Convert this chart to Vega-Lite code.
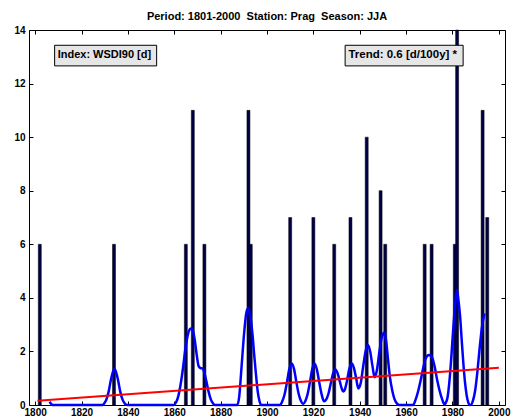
{
  "$schema": "https://vega.github.io/schema/vega-lite/v6.json",
  "width": 476,
  "height": 375,
  "autosize": {"type": "none"},
  "padding": {"left": 29, "top": 30, "right": 9, "bottom": 15},
  "background": "white",
  "title": {"text": "Period: 1801-2000\u00a0\u00a0Station: Prag\u00a0\u00a0Season: JJA", "font": "Liberation Sans", "fontSize": 11, "fontWeight": "bold", "color": "black", "anchor": "middle", "offset": -6, "baseline": "alphabetic"},
  "config": {
    "view": {"stroke": null},
    "axis": {"grid": false, "domainColor": "black", "domainWidth": 1, "tickColor": "black", "tickWidth": 1, "labelFont": "Liberation Sans", "labelFontWeight": "bold", "labelFontSize": 10, "labelColor": "black"}
  },
  "datasets": {
    "bars": [
      {"year": 1802, "days": 6}, {"year": 1834, "days": 6}, {"year": 1865, "days": 6}, {"year": 1868, "days": 11},
      {"year": 1873, "days": 6}, {"year": 1892, "days": 11}, {"year": 1893, "days": 6}, {"year": 1910, "days": 7},
      {"year": 1920, "days": 7}, {"year": 1929, "days": 6}, {"year": 1936, "days": 7}, {"year": 1943, "days": 10},
      {"year": 1949, "days": 8}, {"year": 1951, "days": 6}, {"year": 1968, "days": 6}, {"year": 1971, "days": 6},
      {"year": 1981, "days": 6}, {"year": 1982, "days": 14}, {"year": 1993, "days": 11}, {"year": 1995, "days": 7}
    ],
    "smooth": [
      {"year": 1806.2, "value": 0.12}, {"year": 1806.9, "value": 0.04}, {"year": 1807.5, "value": 0}, {"year": 1829.2, "value": 0},
      {"year": 1829.7, "value": 0.05}, {"year": 1830.7, "value": 0.2}, {"year": 1831.7, "value": 0.5}, {"year": 1832.7, "value": 0.95},
      {"year": 1833.7, "value": 1.28}, {"year": 1834.2, "value": 1.34}, {"year": 1834.7, "value": 1.28}, {"year": 1835.7, "value": 0.95},
      {"year": 1836.7, "value": 0.5}, {"year": 1837.7, "value": 0.2}, {"year": 1838.7, "value": 0.05}, {"year": 1839.7, "value": 0},
      {"year": 1859.8, "value": 0}, {"year": 1860.8, "value": 0.1}, {"year": 1861.8, "value": 0.35}, {"year": 1862.8, "value": 0.8},
      {"year": 1863.8, "value": 1.4}, {"year": 1864.8, "value": 2.1}, {"year": 1865.8, "value": 2.6}, {"year": 1866.8, "value": 2.84},
      {"year": 1867.3, "value": 2.86}, {"year": 1868, "value": 2.78}, {"year": 1868.8, "value": 2.45}, {"year": 1869.8, "value": 1.8},
      {"year": 1870.5, "value": 1.45}, {"year": 1871.3, "value": 1.38}, {"year": 1872.3, "value": 1.36}, {"year": 1873, "value": 1.2},
      {"year": 1873.8, "value": 0.9}, {"year": 1874.8, "value": 0.5}, {"year": 1875.8, "value": 0.2}, {"year": 1876.8, "value": 0.05},
      {"year": 1877.5, "value": 0}, {"year": 1887.2, "value": 0}, {"year": 1888, "value": 0.3}, {"year": 1889, "value": 1.4},
      {"year": 1890.2, "value": 2.75}, {"year": 1891, "value": 3.4}, {"year": 1891.8, "value": 3.61}, {"year": 1892.7, "value": 3.35},
      {"year": 1893.7, "value": 2.67}, {"year": 1894.5, "value": 1.85}, {"year": 1895.2, "value": 1.18}, {"year": 1896, "value": 0.5},
      {"year": 1896.7, "value": 0.17}, {"year": 1897.5, "value": 0}, {"year": 1905.6, "value": 0}, {"year": 1906.6, "value": 0.14},
      {"year": 1907.6, "value": 0.4}, {"year": 1908.6, "value": 0.84}, {"year": 1909.6, "value": 1.33}, {"year": 1910.65, "value": 1.55},
      {"year": 1911.7, "value": 1.33}, {"year": 1912.7, "value": 0.84}, {"year": 1913.7, "value": 0.4}, {"year": 1914.7, "value": 0.14},
      {"year": 1915.6, "value": 0.04}, {"year": 1916.5, "value": 0.14}, {"year": 1917.5, "value": 0.4}, {"year": 1918.5, "value": 0.84},
      {"year": 1919.5, "value": 1.33}, {"year": 1920.5, "value": 1.55}, {"year": 1921.5, "value": 1.33}, {"year": 1922.5, "value": 0.86},
      {"year": 1923.5, "value": 0.42}, {"year": 1924.6, "value": 0.14}, {"year": 1925.5, "value": 0.2}, {"year": 1926.5, "value": 0.42},
      {"year": 1927.5, "value": 0.8}, {"year": 1928.5, "value": 1.18}, {"year": 1929.45, "value": 1.33}, {"year": 1930.4, "value": 1.2},
      {"year": 1931.4, "value": 0.88}, {"year": 1932.3, "value": 0.6}, {"year": 1932.9, "value": 0.5}, {"year": 1933.6, "value": 0.58},
      {"year": 1934.5, "value": 0.9}, {"year": 1935.5, "value": 1.35}, {"year": 1936.5, "value": 1.55}, {"year": 1937.5, "value": 1.38},
      {"year": 1938.5, "value": 0.98}, {"year": 1939.4, "value": 0.62}, {"year": 1940.5, "value": 0.85}, {"year": 1941.5, "value": 1.45},
      {"year": 1942.5, "value": 2.0}, {"year": 1943.5, "value": 2.24}, {"year": 1944.5, "value": 2.0}, {"year": 1945.5, "value": 1.45},
      {"year": 1946.4, "value": 1.04}, {"year": 1947.4, "value": 1.3}, {"year": 1948.5, "value": 2.0}, {"year": 1949.5, "value": 2.52},
      {"year": 1950.45, "value": 2.7}, {"year": 1951.3, "value": 2.45}, {"year": 1952.2, "value": 1.7}, {"year": 1953, "value": 1.06},
      {"year": 1954, "value": 0.55}, {"year": 1955, "value": 0.22}, {"year": 1956, "value": 0.06}, {"year": 1957, "value": 0},
      {"year": 1963, "value": 0}, {"year": 1964.1, "value": 0.2}, {"year": 1965.3, "value": 0.55}, {"year": 1966.3, "value": 0.93},
      {"year": 1967.3, "value": 1.35}, {"year": 1968.3, "value": 1.7}, {"year": 1969.3, "value": 1.85}, {"year": 1969.85, "value": 1.87},
      {"year": 1970.4, "value": 1.85}, {"year": 1971.4, "value": 1.74}, {"year": 1972.4, "value": 1.4}, {"year": 1973.4, "value": 0.93},
      {"year": 1974.4, "value": 0.55}, {"year": 1975.6, "value": 0.2}, {"year": 1976.5, "value": 0.02}, {"year": 1977.0, "value": 0.06},
      {"year": 1977.9, "value": 0.3}, {"year": 1979.1, "value": 1.3}, {"year": 1979.9, "value": 2.3}, {"year": 1980.5, "value": 3.05},
      {"year": 1981.2, "value": 3.8}, {"year": 1981.9, "value": 4.29}, {"year": 1982.6, "value": 3.9}, {"year": 1983.3, "value": 3.3},
      {"year": 1984, "value": 2.4}, {"year": 1984.7, "value": 1.55}, {"year": 1985.4, "value": 0.85}, {"year": 1986.1, "value": 0.37},
      {"year": 1986.8, "value": 0.1}, {"year": 1987.5, "value": 0}, {"year": 1987.8, "value": 0}, {"year": 1988.8, "value": 0.15},
      {"year": 1989.8, "value": 0.55}, {"year": 1990.7, "value": 1.2}, {"year": 1991.7, "value": 2.1}, {"year": 1992.7, "value": 2.9},
      {"year": 1993.8, "value": 3.42}
    ],
    "trend": [
      {"year": 1801, "value": 0.16}, {"year": 2000, "value": 1.39}
    ]
  },
  "resolve": {"axis": {"x": "independent", "y": "independent"}},
  "layer": [
    {
      "data": {"name": "bars"},
      "mark": {"type": "bar", "width": 3, "fill": "#000048", "stroke": "#000000", "strokeWidth": 0.5},
      "encoding": {
        "x": {"field": "year", "type": "quantitative", "scale": {"domain": [1799.5, 2000.5], "nice": false, "zero": false},
              "axis": {"orient": "bottom", "values": [1800, 1820, 1840, 1860, 1880, 1900, 1920, 1940, 1960, 1980, 2000], "format": "d", "tickSize": -4, "labelPadding": 6, "labelFlush": false, "labelOverlap": false, "title": null}},
        "y": {"field": "days", "type": "quantitative", "stack": null, "scale": {"domain": [0, 14], "nice": false},
              "axis": {"orient": "left", "values": [0, 2, 4, 6, 8, 10, 12, 14], "tickSize": -4, "labelPadding": 8, "labelFlush": false, "labelOverlap": false, "title": null}}
      }
    },
    {
      "data": {"name": "smooth"},
      "mark": {"type": "line", "color": "#0000ff", "strokeWidth": 2.5, "interpolate": "monotone"},
      "encoding": {
        "x": {"field": "year", "type": "quantitative", "axis": null},
        "y": {"field": "value", "type": "quantitative", "axis": null}
      }
    },
    {
      "data": {"name": "trend"},
      "mark": {"type": "line", "color": "#ff0000", "strokeWidth": 2},
      "encoding": {
        "x": {"field": "year", "type": "quantitative",
              "axis": {"orient": "top", "values": [1800, 1820, 1840, 1860, 1880, 1900, 1920, 1940, 1960, 1980, 2000], "labels": false, "tickSize": -4, "title": null}},
        "y": {"field": "value", "type": "quantitative",
              "axis": {"orient": "right", "values": [0, 2, 4, 6, 8, 10, 12, 14], "labels": false, "tickSize": -4, "title": null}}
      }
    },
    {
      "data": {"values": [{"box": "index"}]},
      "mark": {"type": "rect", "fill": "#e6e6e6", "stroke": "#000000", "strokeWidth": 1},
      "encoding": {
        "x": {"datum": 1808.4, "type": "quantitative", "axis": null},
        "x2": {"datum": 1852.4},
        "y": {"datum": 13.43, "type": "quantitative", "axis": null},
        "y2": {"datum": 12.66}
      }
    },
    {
      "data": {"values": [{"box": "index"}]},
      "mark": {"type": "text", "text": "Index: WSDI90 [d]", "align": "left", "baseline": "middle", "font": "Liberation Sans", "fontSize": 11, "fontWeight": "bold", "color": "#000000"},
      "encoding": {
        "x": {"datum": 1809.7, "type": "quantitative", "axis": null},
        "y": {"datum": 13.05, "type": "quantitative", "axis": null}
      }
    },
    {
      "data": {"values": [{"box": "trend"}]},
      "mark": {"type": "rect", "fill": "#e6e6e6", "stroke": "#000000", "strokeWidth": 1},
      "encoding": {
        "x": {"datum": 1933.7, "type": "quantitative", "axis": null},
        "x2": {"datum": 1984.6},
        "y": {"datum": 13.43, "type": "quantitative", "axis": null},
        "y2": {"datum": 12.66}
      }
    },
    {
      "data": {"values": [{"box": "trend"}]},
      "mark": {"type": "text", "text": "Trend: 0.6 [d/100y] *", "align": "left", "baseline": "middle", "font": "Liberation Sans", "fontSize": 11.5, "fontWeight": "bold", "color": "#000000"},
      "encoding": {
        "x": {"datum": 1935.1, "type": "quantitative", "axis": null},
        "y": {"datum": 13.05, "type": "quantitative", "axis": null}
      }
    }
  ]
}
